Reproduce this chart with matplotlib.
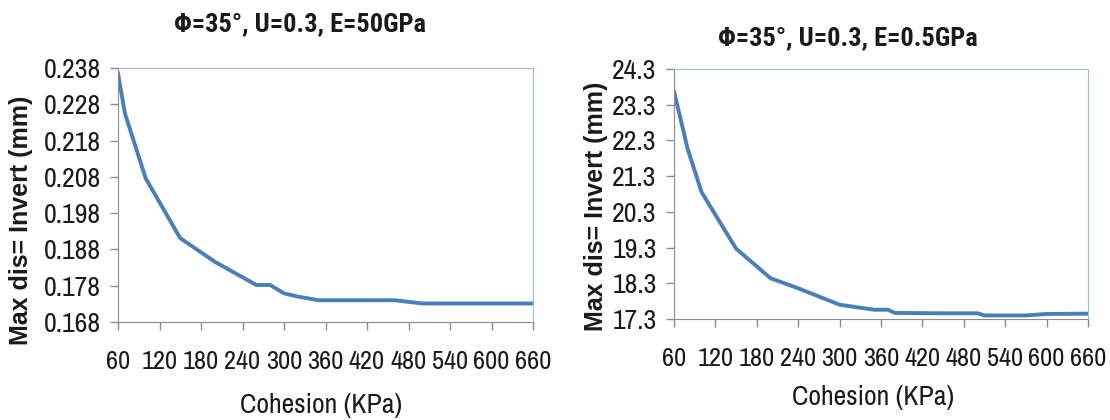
import matplotlib.pyplot as plt

# Cohesion vs maximum invert displacement, E = 50 GPa
coh_a = [60, 70, 100, 150, 200, 260, 280, 300, 320, 350, 400, 460, 500, 550, 600, 660]
disp_a = [0.2365, 0.2255, 0.2076, 0.1911, 0.1846, 0.1782, 0.1782, 0.1759, 0.1750,
          0.1740, 0.1740, 0.1740, 0.1731, 0.1731, 0.1731, 0.1731]

# Cohesion vs maximum invert displacement, E = 0.5 GPa
coh_b = [60, 80, 100, 150, 200, 240, 300, 350, 370, 380, 450, 500, 510, 570, 600, 660]
disp_b = [23.67, 22.05, 20.85, 19.27, 18.44, 18.16, 17.70, 17.56, 17.56, 17.47,
          17.46, 17.46, 17.40, 17.40, 17.44, 17.45]

yt_a = [0.168, 0.178, 0.188, 0.198, 0.208, 0.218, 0.228, 0.238]
yt_b = [17.3, 18.3, 19.3, 20.3, 21.3, 22.3, 23.3, 24.3]
xt = list(range(60, 661, 60))

titles = ['Φ=35°, U=0.3, E=50GPa', 'Φ=35°, U=0.3, E=0.5GPa']
ylab = 'Max dis= Invert (mm)'
xlab = 'Cohesion (KPa)'

narrow = ['Archivo Narrow', 'Roboto Condensed', 'DejaVu Sans']
title_font = ['Roboto Condensed', 'DejaVu Sans']
bold_font = ['Arimo', 'Liberation Sans', 'DejaVu Sans']
line_col = '#4a7ebb'
txt_col = '#1a1a1a'

fig = plt.figure(figsize=(11.1, 4.2), dpi=100)
W, H = 1110, 420

def make_ax(l, r, t, b):
    return fig.add_axes([l / W, 1 - b / H, (r - l) / W, (b - t) / H])

ax1 = make_ax(118, 533, 68, 322)
ax2 = make_ax(674, 1088, 69, 319)

for ax, x, y, yt, fmt in [(ax1, coh_a, disp_a, yt_a, '{:.3f}'), (ax2, coh_b, disp_b, yt_b, '{:.1f}')]:
    ax.plot(x, y, color=line_col, lw=2.8, solid_joinstyle='round')
    ax.set_xlim(60, 660)
    ax.set_ylim(yt[0], yt[-1])
    ax.set_xticks(xt)
    ax.set_xticklabels([str(v) for v in xt], family=narrow, fontsize=19, color=txt_col)
    ax.set_yticks(yt)
    ax.set_yticklabels([fmt.format(v) for v in yt], family=narrow, fontsize=20, color=txt_col)
    ax.tick_params(axis='both', direction='out', length=5.5, width=1, color='#8c8c8c')
    ax.tick_params(axis='x', pad=15)
    ax.tick_params(axis='y', pad=7)
    for s in ['left', 'bottom']:
        ax.spines[s].set_color('#8c8c8c')
    for s in ['top', 'right']:
        ax.spines[s].set_color('#9dbbe2')

fig.text(300 / W, 1 - 24 / H, titles[0], ha='center', va='center', family=title_font,
         fontsize=19, fontweight='bold', color=txt_col)
fig.text(848 / W, 1 - 38 / H, titles[1], ha='center', va='center', family=title_font,
         fontsize=19, fontweight='bold', color=txt_col)

fig.text(21 / W, 1 - 220 / H, ylab, rotation=90, ha='center', va='center',
         fontsize=18, fontweight='bold', color=txt_col, family=bold_font)
fig.text(596 / W, 1 - 206 / H, ylab, rotation=90, ha='center', va='center',
         fontsize=18, fontweight='bold', color=txt_col, family=bold_font)

fig.text(321 / W, 1 - 406 / H, xlab, ha='center', va='center', family=narrow,
         fontsize=20, color=txt_col)
fig.text(873 / W, 1 - 398 / H, xlab, ha='center', va='center', family=narrow,
         fontsize=20, color=txt_col)

fig.savefig('out.png', dpi=100)
